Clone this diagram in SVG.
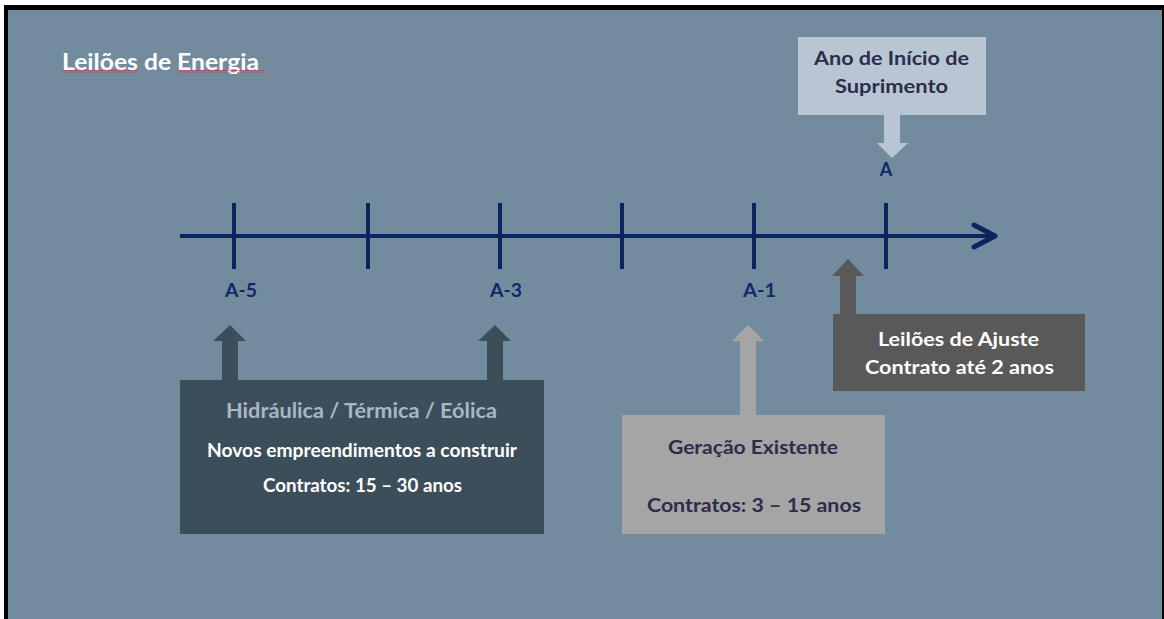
<svg xmlns="http://www.w3.org/2000/svg" width="1164" height="619" viewBox="0 0 1164 619">
<style>
text{font-family:Lato,"Open Sans","Liberation Sans",sans-serif;font-weight:bold}
.navy{fill:#13286A;font-size:18px}
.dark{fill:#2C2C4C;font-size:19px}
.white{fill:#FFFFFF}
.tl{stroke:#0C2461;stroke-width:4;fill:none}
</style>
<defs>
<pattern id="squig" width="4" height="3" patternUnits="userSpaceOnUse">
<path d="M0,2.5 L2,0.5 L4,2.5" stroke="#E02020" stroke-width="0.9" fill="none"/>
</pattern>
</defs>
<rect x="0" y="0" width="1164" height="619" fill="#FFFFFF"/>
<rect x="4" y="5" width="1160" height="614" fill="#000000"/>
<rect x="8" y="10" width="1154" height="609" fill="#728C9E"/>

<g id="title">
<text x="62" y="70" class="white" font-size="23" textLength="197" lengthAdjust="spacingAndGlyphs">Leilões de Energia</text>
<rect x="62" y="70" width="75" height="3" fill="url(#squig)"/>
<rect x="178" y="70" width="86" height="3" fill="url(#squig)"/>
</g>

<g id="timeline">
<line x1="180" y1="236" x2="994" y2="236" class="tl"/>
<path d="M974,225 L995,236 L974,247" stroke="#0C2461" stroke-width="5" fill="none" stroke-linecap="round" stroke-linejoin="round"/>
<line x1="234" y1="203" x2="234" y2="269" class="tl"/>
<line x1="368" y1="203" x2="368" y2="269" class="tl"/>
<line x1="500" y1="203" x2="500" y2="269" class="tl"/>
<line x1="622" y1="203" x2="622" y2="269" class="tl"/>
<line x1="754" y1="203" x2="754" y2="269" class="tl"/>
<line x1="886" y1="203" x2="886" y2="269" class="tl"/>
<text x="225" y="297" class="navy" textLength="32" lengthAdjust="spacingAndGlyphs">A-5</text>
<text x="490" y="297" class="navy" textLength="32" lengthAdjust="spacingAndGlyphs">A-3</text>
<text x="743" y="297" class="navy" textLength="33" lengthAdjust="spacingAndGlyphs">A-1</text>
<text x="886" y="176" class="navy" text-anchor="middle">A</text>
</g>

<g id="connectors">
<polygon points="884,115 884,143 877,143 892,158 908,143 900,143 900,115" fill="#B8C6D3"/>
<polygon points="222,380 222,341 213,341 230,325 246,341 238,341 238,380" fill="#3D4E5B"/>
<polygon points="487,380 487,341 478,341 495,325 511,341 503,341 503,380" fill="#3D4E5B"/>
<polygon points="740,415 740,341 732,341 748,325 764,341 756,341 756,415" fill="#A5A5A5"/>
<polygon points="840,314 840,276 832,276 848,259 864,276 856,276 856,314" fill="#595959"/>
</g>

<g id="node-suprimento">
<rect x="798" y="37" width="188" height="78" fill="#B8C6D3"/>
<text x="814" y="65" class="dark" textLength="155" lengthAdjust="spacingAndGlyphs">Ano de Início de</text>
<text x="835" y="93" class="dark" textLength="113" lengthAdjust="spacingAndGlyphs">Suprimento</text>
</g>

<g id="node-novos">
<rect x="180" y="380" width="364" height="154" fill="#3D4E5B"/>
<text x="226" y="418" fill="#A9B7C5" font-size="20" textLength="271" lengthAdjust="spacingAndGlyphs">Hidráulica / Térmica / Eólica</text>
<text x="207" y="457" class="white" font-size="18" textLength="310" lengthAdjust="spacingAndGlyphs">Novos empreendimentos a construir</text>
<text x="263" y="492" class="white" font-size="18" textLength="199" lengthAdjust="spacingAndGlyphs">Contratos: 15 – 30 anos</text>
</g>

<g id="node-existente">
<rect x="622" y="415" width="263" height="119" fill="#A5A5A5"/>
<text x="668" y="454" class="dark" textLength="170" lengthAdjust="spacingAndGlyphs">Geração Existente</text>
<text x="647" y="512" class="dark" textLength="214" lengthAdjust="spacingAndGlyphs">Contratos: 3 – 15 anos</text>
</g>

<g id="node-ajuste">
<rect x="833" y="314" width="252" height="77" fill="#595959"/>
<text x="878" y="346" class="white" font-size="19" textLength="161" lengthAdjust="spacingAndGlyphs">Leilões de Ajuste</text>
<text x="865" y="374" class="white" font-size="19" textLength="189" lengthAdjust="spacingAndGlyphs">Contrato até 2 anos</text>
</g>
</svg>
